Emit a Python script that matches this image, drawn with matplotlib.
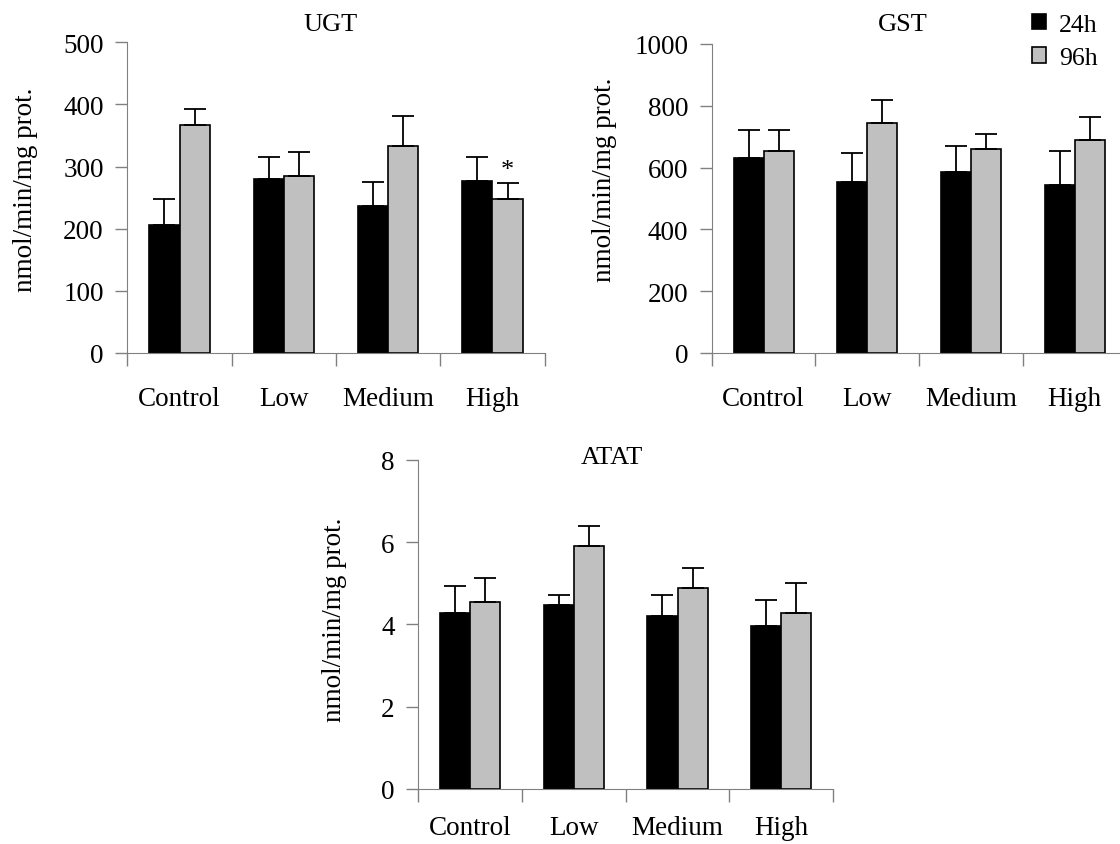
import numpy as np
import matplotlib
matplotlib.use('Agg')
import matplotlib.pyplot as plt

plt.rcParams['font.family'] = ['Liberation Serif', 'DejaVu Serif']

grupos = ['Control', 'Low', 'Medium', 'High']

# UGT
ugt_24 = [206, 280, 236, 277]
ugt_24_err = [42, 35, 39, 38]
ugt_96 = [367, 285, 333, 248]
ugt_96_err = [25, 38, 48, 25]

# GST
gst_24 = [631, 552, 586, 545]
gst_24_err = [91, 95, 85, 108]
gst_96 = [653, 744, 659, 688]
gst_96_err = [69, 76, 51, 76]

# ATAT
atat_24 = [4.28, 4.48, 4.20, 3.95]
atat_24_err = [0.65, 0.24, 0.52, 0.65]
atat_96 = [4.55, 5.90, 4.88, 4.28]
atat_96_err = [0.58, 0.49, 0.50, 0.72]

fig = plt.figure(figsize=(11.2, 8.45), dpi=100)

gris = '#808080'
ancho = 0.29


def panel(rect, titulo, v24, e24, v96, e96, ymax, paso, tit_pos, lab_pos, xpad=24):
    ax = fig.add_axes(rect)
    x = np.arange(len(grupos))
    b1 = ax.bar(x - ancho / 2, v24, ancho, color='black', edgecolor='black', linewidth=1.2)
    b2 = ax.bar(x + ancho / 2, v96, ancho, color='#c0c0c0', edgecolor='black', linewidth=1.2)
    ax.errorbar(x - ancho / 2, v24, yerr=[np.zeros(4), e24], fmt='none', ecolor='black',
                elinewidth=1.3, capsize=8, capthick=1.3)
    ax.errorbar(x + ancho / 2, v96, yerr=[np.zeros(4), e96], fmt='none', ecolor='black',
                elinewidth=1.3, capsize=8, capthick=1.3)
    ax.set_xlim(-0.5, 3.5)
    ax.set_ylim(0, ymax)
    ax.set_yticks(np.arange(0, ymax + paso / 2, paso))
    ax.set_xticks(np.arange(-0.5, 4, 1))
    ax.set_xticklabels([])
    ax.set_xticks(x, minor=True)
    ax.set_xticklabels(grupos, minor=True)
    ax.tick_params(axis='x', which='major', length=9, width=1, color=gris)
    ax.tick_params(axis='x', which='minor', length=0, pad=xpad, labelsize=19.5)
    ax.tick_params(axis='y', length=9, width=1, color=gris, pad=8, labelsize=19.5)
    ax.spines['top'].set_visible(False)
    ax.spines['right'].set_visible(False)
    ax.spines['left'].set_color(gris)
    ax.spines['bottom'].set_color(gris)
    ax.text(tit_pos[0], tit_pos[1], titulo, transform=ax.transAxes, ha='center', va='center',
            fontsize=19)
    ax.set_ylabel('nmol/min/mg prot.', fontsize=19.5)
    ax.yaxis.set_label_coords(lab_pos[0], lab_pos[1])
    return ax, b1, b2


ax1, _, _ = panel([0.1138, 0.5811, 0.3724, 0.3677], 'UGT', ugt_24, ugt_24_err, ugt_96, ugt_96_err,
                  500, 100, (0.486, 1.058), (-0.2146, 0.527))
ax1.text(3 + ancho / 2, ugt_96[3] + ugt_96_err[3] + 4, '*', ha='center', va='bottom', fontsize=19)

ax2, b1, b2 = panel([0.6355, 0.5811, 0.3704, 0.3657], 'GST', gst_24, gst_24_err, gst_96, gst_96_err,
                    1000, 200, (0.461, 1.065), (-0.228, 0.563))

ax3, _, _ = panel([0.3735, 0.0651, 0.3703, 0.3897], 'ATAT', atat_24, atat_24_err, atat_96, atat_96_err,
                  8, 2, (0.466, 1.008), (-0.172, 0.516), xpad=19)

fig.legend([b1, b2], ['24h', '96h'], loc='upper left', bbox_to_anchor=(0.912, 0.995),
           frameon=False, fontsize=18.5, handlelength=0.55, handleheight=0.55,
           handletextpad=0.5, labelspacing=0.45, borderaxespad=0)

plt.savefig('out.png', dpi=100)
